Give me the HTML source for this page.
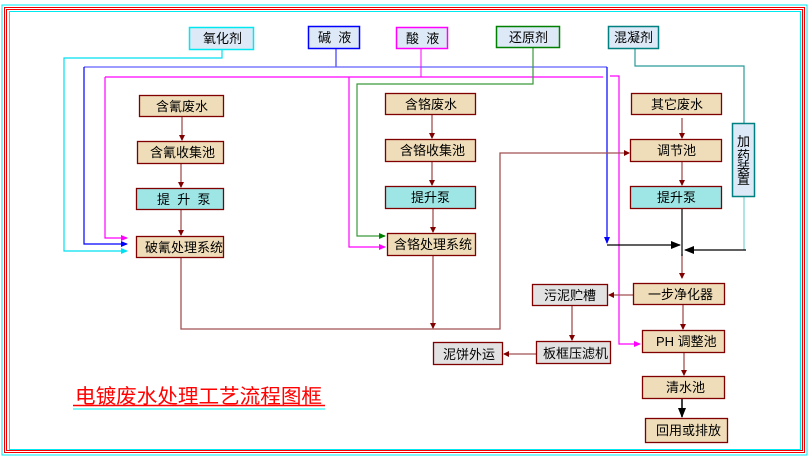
<!DOCTYPE html>
<html><head><meta charset="utf-8"><style>
html,body{margin:0;padding:0;background:#fff;}
svg{display:block;}
text{font-family:"Liberation Sans","Noto Sans CJK SC",sans-serif;font-size:13px;fill:#000;}
</style></head><body>
<svg width="811" height="459" viewBox="0 0 811 459" xmlns="http://www.w3.org/2000/svg">
<defs>
<marker id="ar" markerWidth="6" markerHeight="6" refX="5" refY="3" orient="auto" markerUnits="userSpaceOnUse"><path d="M0,0L6,3L0,6z" fill="#800000"/></marker>
<marker id="ab" markerWidth="10" markerHeight="8" refX="9" refY="4" orient="auto" markerUnits="userSpaceOnUse"><path d="M0,0L10,4L0,8z" fill="#000"/></marker>
<marker id="ac" markerWidth="7" markerHeight="6" refX="6" refY="3" orient="auto" markerUnits="userSpaceOnUse"><path d="M0,0L7,3L0,6z" fill="#00e0f0"/></marker>
<marker id="abl" markerWidth="7" markerHeight="6" refX="6" refY="3" orient="auto" markerUnits="userSpaceOnUse"><path d="M0,0L7,3L0,6z" fill="#0000ff"/></marker>
<marker id="am" markerWidth="7" markerHeight="6" refX="6" refY="3" orient="auto" markerUnits="userSpaceOnUse"><path d="M0,0L7,3L0,6z" fill="#ff00ff"/></marker>
<marker id="ag" markerWidth="7" markerHeight="6" refX="6" refY="3" orient="auto" markerUnits="userSpaceOnUse"><path d="M0,0L7,3L0,6z" fill="#008000"/></marker>
</defs>
<rect x="2" y="5" width="805" height="450" fill="none" stroke="#00e8f0" stroke-width="1"/>
<rect x="4.5" y="7.5" width="800" height="445" fill="none" stroke="#f00000" stroke-width="1"/>
<rect x="6.5" y="9.5" width="796" height="441" fill="none" stroke="#f00000" stroke-width="1"/>
<rect x="9.5" y="11.5" width="791" height="438" fill="none" stroke="#00e8f0" stroke-width="1"/>

<polyline points="222,49 222,58 64,58 64,251 127,251" fill="none" stroke="#00e0f0" stroke-width="1.2" marker-end="url(#ac)"/>
<polyline points="336,48 336,67" fill="none" stroke="#6060ff" stroke-width="1.5"/>
<polyline points="84,67 607,67" fill="none" stroke="#6060ff" stroke-width="1.3"/>
<polyline points="84,67 84,244 127,244" fill="none" stroke="#0000ff" stroke-width="1.2" marker-end="url(#abl)"/>
<polyline points="607,67 607,243" fill="none" stroke="#0000ff" stroke-width="1.2" marker-end="url(#abl)"/>
<polyline points="421,48 421,77" fill="none" stroke="#ff00ff" stroke-width="1"/>
<polyline points="105,77 603,77" fill="none" stroke="#ff00ff" stroke-width="1.2"/>
<polyline points="105,77 105,238 127,238" fill="none" stroke="#ff00ff" stroke-width="1.2" marker-end="url(#am)"/>
<polyline points="349,77 349,247 385,247" fill="none" stroke="#ff00ff" stroke-width="1.2" marker-end="url(#am)"/>
<polyline points="610,76 619,76 619,344 640,344" fill="none" stroke="#ff00ff" stroke-width="1.2" marker-end="url(#am)"/>
<polyline points="533,47 533,84 357,84 357,236 385,236" fill="none" stroke="#3a9a3a" stroke-width="1.2" marker-end="url(#ag)"/>
<polyline points="635,48 635,66 744,66 744,123" fill="none" stroke="#2a9a9a" stroke-width="1.2"/>
<polyline points="744,196 744,250" fill="none" stroke="#7ad0d0" stroke-width="1.2"/>
<polyline points="746,250 685,250" fill="none" stroke="#000" stroke-width="1.2" marker-end="url(#ab)"/>
<polyline points="607,245 680,245" fill="none" stroke="#000" stroke-width="1.2" marker-end="url(#ab)"/>

<g fill="none" stroke="#a05050" stroke-width="1.3">
<line x1="182" y1="116" x2="182" y2="140" marker-end="url(#ar)"/>
<line x1="181" y1="163" x2="181" y2="187" marker-end="url(#ar)"/>
<line x1="181" y1="209" x2="181" y2="235" marker-end="url(#ar)"/>
<polyline points="181,257 181,329 500,329 500,153 629,153" marker-end="url(#ar)"/>
<line x1="432" y1="114" x2="432" y2="138" marker-end="url(#ar)"/>
<line x1="432" y1="161" x2="432" y2="185" marker-end="url(#ar)"/>
<line x1="433" y1="208" x2="433" y2="232" marker-end="url(#ar)"/>
<line x1="433" y1="255" x2="433" y2="328" marker-end="url(#ar)"/>
<line x1="682" y1="118" x2="682" y2="138" marker-end="url(#ar)"/>
<line x1="682" y1="161" x2="682" y2="185" marker-end="url(#ar)"/>
<line x1="682" y1="254" x2="682" y2="278" marker-end="url(#ar)"/>
<line x1="633" y1="295" x2="609" y2="295" marker-end="url(#ar)"/>
<line x1="572" y1="305" x2="572" y2="340" marker-end="url(#ar)"/>
<line x1="536" y1="354" x2="504" y2="354" marker-end="url(#ar)"/>
<line x1="683" y1="304" x2="683" y2="329" marker-end="url(#ar)"/>
<line x1="684" y1="352" x2="684" y2="375" marker-end="url(#ar)"/>
</g>
<line x1="682" y1="208" x2="682" y2="256" stroke="#000" stroke-width="1.2"/>
<line x1="682" y1="398" x2="682" y2="417" stroke="#000" stroke-width="1.5" marker-end="url(#ab)"/>

<g stroke-width="1.5">
<rect x="189.5" y="27.5" width="64" height="22" fill="#dde9f6" stroke="#00e8f0"/>
<rect x="308.5" y="26.5" width="51" height="22" fill="#dde9f6" stroke="#0000ff"/>
<rect x="396.5" y="27.5" width="51" height="21" fill="#dde9f6" stroke="#ff00ff"/>
<rect x="496.5" y="26.5" width="63" height="21" fill="#dde9f6" stroke="#008000"/>
<rect x="608.5" y="26.5" width="50" height="22" fill="#dde9f6" stroke="#008080"/>
<rect x="732.5" y="123.5" width="22" height="73" fill="#dde9f6" stroke="#008080"/>
</g>
<text x="203" y="43">氧化剂</text>
<text x="318" y="42">碱&#160;&#160;液</text>
<text x="406" y="43">酸&#160;&#160;液</text>
<text x="509" y="42">还原剂</text>
<text x="614" y="42">混凝剂</text>
<text x="737" y="146">加</text><text x="737" y="160">药</text><text x="737" y="172">装</text><text x="737" y="184">置</text>

<g stroke="#800000" stroke-width="1.3">
<rect x="139.5" y="95.5" width="84" height="21" fill="#efdcb8"/>
<rect x="137.5" y="141.5" width="86" height="22" fill="#efdcb8"/>
<rect x="136.5" y="188.5" width="87" height="21" fill="#9ee6e6"/>
<rect x="136.5" y="236.5" width="87" height="21" fill="#efdcb8"/>
<rect x="385.5" y="93.5" width="90" height="21" fill="#efdcb8"/>
<rect x="385.5" y="139.5" width="90" height="22" fill="#efdcb8"/>
<rect x="385.5" y="186.5" width="90" height="22" fill="#9ee6e6"/>
<rect x="387.5" y="233.5" width="88" height="22" fill="#efdcb8"/>
<rect x="631.5" y="93.5" width="90" height="21" fill="#efdcb8"/>
<rect x="630.5" y="139.5" width="91" height="22" fill="#efdcb8"/>
<rect x="630.5" y="186.5" width="91" height="22" fill="#9ee6e6"/>
<rect x="633.5" y="283.5" width="91" height="21" fill="#efdcb8"/>
<rect x="642.5" y="330.5" width="82" height="22" fill="#efdcb8"/>
<rect x="642.5" y="376.5" width="82" height="22" fill="#efdcb8"/>
<rect x="645.5" y="418.5" width="82" height="24" fill="#efdcb8"/>
<rect x="532.5" y="284.5" width="75" height="21" fill="#e2e2e2"/>
<rect x="536.5" y="341.5" width="74" height="22" fill="#e2e2e2"/>
<rect x="433.5" y="342.5" width="69" height="22" fill="#e2e2e2"/>
</g>
<text x="156" y="111">含氰废水</text>
<text x="150" y="157">含氰收集池</text>
<text x="157" y="204">提&#160;&#160;升&#160;&#160;泵</text>
<text x="145" y="252">破氰处理系统</text>
<text x="405" y="109">含铬废水</text>
<text x="400" y="155">含铬收集池</text>
<text x="411" y="202">提升泵</text>
<text x="394" y="249">含铬处理系统</text>
<text x="651" y="109">其它废水</text>
<text x="657" y="155">调节池</text>
<text x="657" y="202">提升泵</text>
<text x="648" y="299">一步净化器</text>
<text x="656" y="346">PH 调整池</text>
<text x="666" y="392">清水池</text>
<text x="656" y="435">回用或排放</text>
<text x="544" y="300">污泥贮槽</text>
<text x="543" y="358">板框压滤机</text>
<text x="443" y="359">泥饼外运</text>

<text x="75" y="403" textLength="247" lengthAdjust="spacingAndGlyphs" style="font-size:20px;fill:#ff0000">电镀废水处理工艺流程图框</text>
<line x1="73" y1="405.5" x2="325" y2="405.5" stroke="#ff0000" stroke-width="1.5"/>
<line x1="73" y1="409" x2="325" y2="409" stroke="#80f8f8" stroke-width="2"/>
</svg>
</body></html>
